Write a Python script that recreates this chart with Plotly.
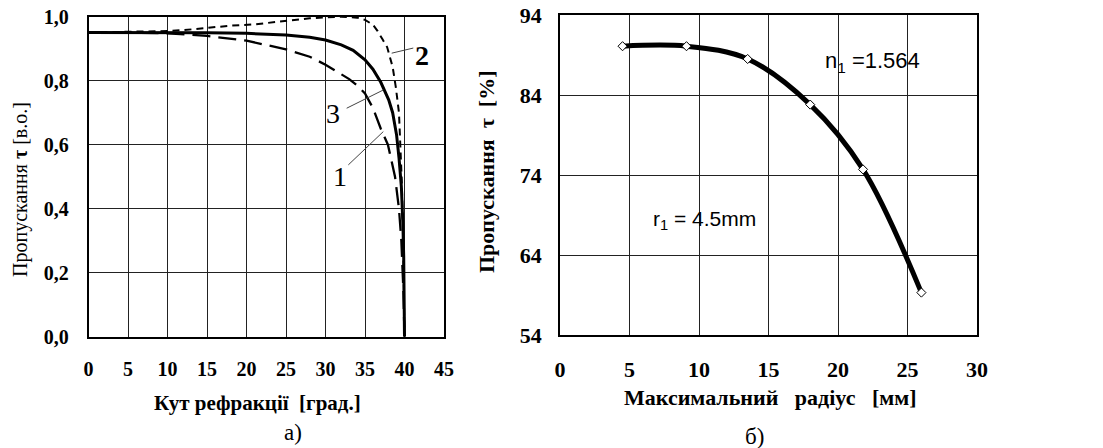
import plotly.graph_objects as go

# ---- panel a): transmission vs refraction angle ----
angle_1 = [0, 5, 10, 15, 20, 25, 28, 30, 32, 33, 34, 35, 36, 36.5, 37, 37.9, 38.8, 39.3, 39.6, 39.85, 40]
trans_1 = [0.952, 0.951, 0.948, 0.940, 0.925, 0.898, 0.875, 0.850, 0.820, 0.805, 0.785, 0.760, 0.715, 0.680,
           0.650, 0.600, 0.500, 0.400, 0.300, 0.150, 0.0]

angle_2 = [0, 5, 10, 12, 15, 18, 21, 25, 28, 30, 32, 34, 35, 36, 36.6, 37.2, 37.8, 38.5, 38.9, 39.3, 39.5,
           39.65, 39.8, 40]
trans_2 = [0.951, 0.952, 0.955, 0.958, 0.966, 0.972, 0.976, 0.987, 0.995, 0.998, 1.0, 0.997, 0.990, 0.975,
           0.955, 0.930, 0.905, 0.843, 0.780, 0.700, 0.600, 0.490, 0.350, 0.0]

angle_3 = [0, 5, 10, 15, 20, 25, 28, 30, 32, 33.5, 35, 36, 37, 37.5, 38, 38.5, 39, 39.3, 39.6, 39.8, 39.9, 40]
trans_3 = [0.951, 0.951, 0.951, 0.950, 0.948, 0.943, 0.936, 0.927, 0.912, 0.895, 0.865, 0.836, 0.795, 0.770,
           0.740, 0.700, 0.630, 0.560, 0.470, 0.350, 0.250, 0.0]

# ---- panel б): transmission vs maximal radius ----
radius_mm = [4.5, 9.1, 13.5, 18.0, 21.8, 26.0]
trans_pct = [90.1, 90.1, 88.5, 82.8, 74.7, 59.3]

x_ticks_a = [0, 5, 10, 15, 20, 25, 30, 35, 40, 45]
y_ticks_a = [0.0, 0.2, 0.4, 0.6, 0.8, 1.0]
x_ticks_b = [0, 5, 10, 15, 20, 25, 30]
y_ticks_b = [54, 64, 74, 84, 94]

SERIF = "Liberation Serif, Times New Roman, serif"
SANS = "Liberation Sans, Arial, sans-serif"

W, H = 1103, 448

fig = go.Figure()

fig.add_trace(go.Scatter(x=angle_1, y=trans_1, mode="lines", xaxis="x", yaxis="y",
                         line=dict(color="black", width=2.3, dash="18px,8px")))
fig.add_trace(go.Scatter(x=angle_2, y=trans_2, mode="lines", xaxis="x", yaxis="y",
                         line=dict(color="black", width=2, dash="7px,5px")))
fig.add_trace(go.Scatter(x=angle_3, y=trans_3, mode="lines", xaxis="x", yaxis="y",
                         line=dict(color="black", width=3)))

fig.add_trace(go.Scatter(x=radius_mm, y=trans_pct, mode="lines+markers", xaxis="x2", yaxis="y2",
                         line=dict(color="black", width=5, shape="spline", smoothing=1.0),
                         marker=dict(symbol="diamond", size=7, color="white",
                                     line=dict(color="black", width=1))))


def axis_style(size, standoff):
    return dict(showline=True, linecolor="black", linewidth=1.5, mirror=True,
                showgrid=True, gridcolor="#222", gridwidth=1, zeroline=False,
                ticks="", automargin=False, ticklabelstandoff=standoff,
                tickfont=dict(family=SERIF, size=size, color="black", weight="bold"))


fig.update_layout(
    width=W, height=H,
    margin=dict(l=0, r=0, t=0, b=0, pad=0, autoexpand=False),
    paper_bgcolor="white", plot_bgcolor="white",
    showlegend=False,
    separators=", ",
    xaxis=dict(domain=[88.5 / W, 444 / W], range=[0, 45], tickvals=x_ticks_a,
               anchor="y", **axis_style(20, 14)),
    yaxis=dict(domain=[(H - 336.7) / H, (H - 16.7) / H], range=[0, 1], tickvals=y_ticks_a,
               tickformat=".1f", anchor="x", **axis_style(20, 14)),
    xaxis2=dict(domain=[560 / W, 977 / W], range=[0, 30], tickvals=x_ticks_b,
                anchor="y2", **axis_style(22, 14)),
    yaxis2=dict(domain=[(H - 335) / H, (H - 15) / H], range=[54, 94], tickvals=y_ticks_b,
                anchor="x2", **axis_style(22, 12)),
)

# curve number leaders in panel a)
leaders = [((38.38, 0.886), (41.11, 0.902)),
           ((32.68, 0.714), (37.32, 0.771)),
           ((32.89, 0.537), (37.32, 0.641))]
for (x0, y0), (x1, y1) in leaders:
    fig.add_shape(type="line", xref="x", yref="y", x0=x0, y0=y0, x1=x1, y1=y1,
                  line=dict(color="#444", width=1))

curve_labels = [("<b>2</b>", 42.18, 0.880), ("3", 30.99, 0.698), ("1", 31.84, 0.50)]
for txt, x, y in curve_labels:
    fig.add_annotation(x=x, y=y, xref="x", yref="y", text=txt, showarrow=False,
                       font=dict(family=SERIF, size=28, color="black"))

paper_text = [
    ("Пропускання <b>τ</b> [в.о.]", 21, 190, 20, -90),
    ("<b>Кут рефракції  [град.]</b>", 257, 403, 21, 0),
    ("а)", 293, 432, 23, 0),
    ("<b>Пропускання  τ  [%]</b>", 486, 172, 22, -90),
    ("<b>Максимальний   радіус   [мм]</b>", 770, 397, 22, 0),
    ("б)", 754, 436, 23, 0),
]
for txt, px, py, size, ang in paper_text:
    fig.add_annotation(x=px / W, y=1 - py / H, xref="paper", yref="paper", text=txt,
                       showarrow=False, textangle=ang, xanchor="center", yanchor="middle",
                       font=dict(family=SERIF, size=size, color="black"))

fig.add_annotation(x=22.5, y=88.1, xref="x2", yref="y2", text="n<sub>1</sub> =1.564", showarrow=False,
                   font=dict(family=SANS, size=22, color="black"))
fig.add_annotation(x=10.36, y=68.4, xref="x2", yref="y2", text="r<sub>1</sub> = 4.5mm", showarrow=False,
                   font=dict(family=SANS, size=21, color="black"))

fig.write_html("out.html")
